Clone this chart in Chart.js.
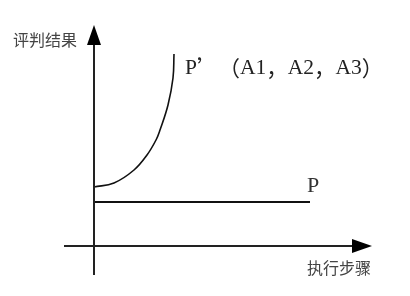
<!DOCTYPE html>
<html lang="zh">
<head>
<meta charset="UTF-8">
<title>评判结果</title>
<style>
    body { margin: 0; background: #fff; }
    canvas { display: block; }
</style>
</head>
<body>
<canvas id="myChart" width="410" height="296"></canvas>
<script src="https://cdn.jsdelivr.net/npm/chart.js"></script>
<script>
    // curve P' (origin at the axis crossing)
    const curveX = [0, 20, 40, 53, 62, 66, 74, 79, 80];
    const curveY = [59, 63, 76, 91, 106, 116, 141, 168, 192];

    // flat line P
    const flatX = [0, 216];
    const flatY = [44, 44];

    // axes
    const yAxisX = [0, 0];
    const yAxisY = [-29, 203];
    const xAxisX = [-30, 260];
    const xAxisY = [0, 0];

    const labelTexts = ['评判结果', 'P’（A1，A2，A3）', 'P', '执行步骤'];

    function pts(xs, ys) {
        return xs.map((x, i) => ({ x: x, y: ys[i] }));
    }

    // where the texts sit (data units) and how they look
    const labelSpots = [
        { x: -81, y: 206, size: 16, color: '#444' },
        { x: 91, y: 178, size: 21.5, color: '#222' },
        { x: 213, y: 60, size: 22, color: '#333' },
        { x: 213, y: -22, size: 16, color: '#444' }
    ];

    // ascii in a serif face, everything else in the CJK face (full width)
    function drawMixed(ctx, text, x, y, size) {
        for (const ch of text) {
            ctx.font = ch.charCodeAt(0) < 128
                ? size + 'px "Liberation Serif"'
                : size + 'px "Noto Sans CJK SC"';
            ctx.fillText(ch, x, y);
            x += ch.charCodeAt(0) < 128 ? ctx.measureText(ch).width : size;
        }
    }

    const extras = {
        id: 'extras',
        afterDatasetsDraw(chart) {
            const ctx = chart.ctx;
            const sx = chart.scales.x, sy = chart.scales.y;
            ctx.save();
            ctx.fillStyle = '#000';
            // arrow on y axis
            let tx = sx.getPixelForValue(0), ty = sy.getPixelForValue(221);
            let by = sy.getPixelForValue(yAxisY[1] - 2);
            ctx.beginPath();
            ctx.moveTo(tx, ty);
            ctx.lineTo(tx - 7, by);
            ctx.lineTo(tx + 7, by);
            ctx.closePath();
            ctx.fill();
            // arrow on x axis
            tx = sx.getPixelForValue(278);
            ty = sy.getPixelForValue(0);
            let bx = sx.getPixelForValue(xAxisX[1] - 2);
            ctx.beginPath();
            ctx.moveTo(tx, ty);
            ctx.lineTo(bx, ty - 7);
            ctx.lineTo(bx, ty + 7);
            ctx.closePath();
            ctx.fill();
            // texts
            ctx.textBaseline = 'middle';
            ctx.textAlign = 'left';
            labelTexts.forEach((t, i) => {
                const s = labelSpots[i];
                ctx.fillStyle = s.color;
                drawMixed(ctx, t, sx.getPixelForValue(s.x), sy.getPixelForValue(s.y), s.size);
            });
            ctx.restore();
        }
    };

    const myCanvas = document.getElementById('myChart');

    const myChart = new Chart(myCanvas, {
        type: 'scatter',
        data: {
            datasets: [
                { data: pts(yAxisX, yAxisY), showLine: true, borderColor: '#222', borderWidth: 2, pointRadius: 0 },
                { data: pts(xAxisX, xAxisY), showLine: true, borderColor: '#222', borderWidth: 2, pointRadius: 0 },
                { data: pts(flatX, flatY), showLine: true, borderColor: '#111', borderWidth: 2, pointRadius: 0 },
                { data: pts(curveX, curveY), showLine: true, borderColor: '#111', borderWidth: 1.6, pointRadius: 0, tension: 0.4 }
            ]
        },
        options: {
            responsive: false,
            animation: false,
            layout: { padding: 0 },
            plugins: { legend: { display: false }, tooltip: { enabled: false } },
            scales: {
                x: { type: 'linear', min: -94, max: 316, display: false },
                y: { type: 'linear', min: -50, max: 246, display: false }
            }
        },
        plugins: [extras]
    });
</script>
</body>
</html>
